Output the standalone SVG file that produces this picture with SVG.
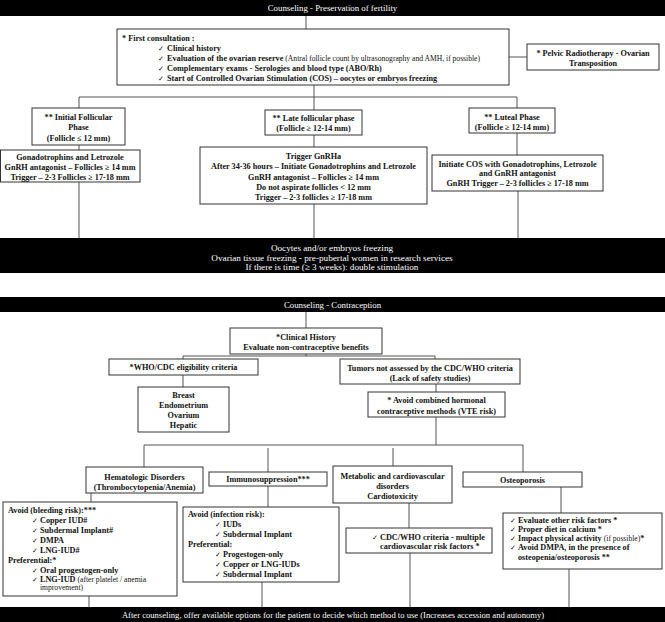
<svg xmlns="http://www.w3.org/2000/svg" width="665" height="622" viewBox="0 0 665 622">
<style>
.bar{fill:#000}
.bt{font-family:"Liberation Serif",serif;fill:#fff;text-anchor:middle;font-size:8.8px}
.box{fill:#fff;stroke:#333;stroke-width:1}
.t{font-family:"Liberation Serif",serif;font-weight:bold;font-size:8.2px;fill:#111}
.c{text-anchor:middle}
.s{font-weight:normal;font-size:7.6px}
.ck{font-family:"DejaVu Sans",sans-serif;font-weight:normal;font-size:7px}
#connectors path{stroke:#555;stroke-width:1;fill:none}
</style>
<rect width="665" height="622" fill="#fff"/>
<g id="connectors">
<path d="M306,16V29"/>
<path d="M509,57H527"/>
<path d="M314,85V97"/>
<path d="M79,108V97H517V108"/>
<path d="M314,97V110"/>
<path d="M79,145V150"/>
<path d="M314,135V147"/>
<path d="M517,133V155"/>
<path d="M79,182V238"/>
<path d="M314,204V238"/>
<path d="M518,191V238"/>
<path d="M306,312V328"/>
<path d="M306,354V356"/>
<path d="M183,359V356H435V359"/>
<path d="M183,375V387"/>
<path d="M436,384V392"/>
<path d="M436,417V445"/>
<path d="M144,467V445H523V472"/>
<path d="M268,448V472"/>
<path d="M393,448V466"/>
<path d="M91,493V502"/>
<path d="M268,486V507"/>
<path d="M409,503V528"/>
<path d="M561,487V513"/>
<path d="M89,596V607"/>
<path d="M262,582V607"/>
<path d="M410,553V607"/>
<path d="M569,569V607"/>
</g>
<g id="bar-fertility">
<rect class="bar" x="0" y="0" width="665" height="16"/>
<text class="bt" x="332.5" y="11">Counseling - Preservation of fertility</text>
</g>
<g id="first-consultation">
<rect class="box" x="117" y="29" width="392" height="56"/>
<text class="t" x="122" y="40.5">* First consultation :</text>
<text class="t" y="50.5"><tspan class="ck" x="158">✓</tspan><tspan x="167">Clinical history</tspan></text>
<text class="t" y="60.5"><tspan class="ck" x="158">✓</tspan><tspan x="167">Evaluation of the ovarian reserve </tspan><tspan class="s">(Antral follicle count by ultrasonography and AMH, if possible)</tspan></text>
<text class="t" y="70.5"><tspan class="ck" x="158">✓</tspan><tspan x="167">Complementary exams - Serologies and blood type (ABO/Rh)</tspan></text>
<text class="t" y="80.5"><tspan class="ck" x="158">✓</tspan><tspan x="167">Start of Controlled Ovarian Stimulation (COS) – oocytes or embryos freezing</tspan></text>
</g>
<g id="pelvic">
<rect class="box" x="527" y="44" width="132" height="26"/>
<text class="t c" x="593" y="55.8">* Pelvic Radiotherapy - Ovarian</text>
<text class="t c" x="593" y="65.8">Transposition</text>
</g>
<g id="initial-follicular">
<rect class="box" x="32" y="108" width="93" height="37"/>
<text class="t c" x="78.5" y="119.5">** Initial Follicular</text>
<text class="t c" x="78.5" y="129.5">Phase</text>
<text class="t c" x="78.5" y="140.5">(Follicle ≤ 12 mm)</text>
</g>
<g id="late-follicular">
<rect class="box" x="265" y="110" width="97" height="25"/>
<text class="t c" x="313.5" y="121">** Late follicular phase</text>
<text class="t c" x="313.5" y="131">(Follicle ≥ 12-14 mm)</text>
</g>
<g id="luteal">
<rect class="box" x="469" y="108" width="86" height="25"/>
<text class="t c" x="512" y="120">** Luteal Phase</text>
<text class="t c" x="512" y="130">(Follicle ≥ 12-14 mm)</text>
</g>
<g id="gonadotrophins">
<rect class="box" x="0.5" y="150" width="139.5" height="32"/>
<text class="t c" x="70" y="159.5">Gonadotrophins and Letrozole</text>
<text class="t c" x="70" y="169.5">GnRH antagonist – Follicles ≥ 14 mm</text>
<text class="t c" x="70" y="179.5">Trigger – 2-3 Follicles ≥ 17-18 mm</text>
</g>
<g id="trigger">
<rect class="box" x="200" y="147" width="227" height="57"/>
<text class="t c" x="313.5" y="158.5">Trigger GnRHa</text>
<text class="t c" x="313.5" y="169">After 34-36 hours – Initiate Gonadotrophins and Letrozole</text>
<text class="t c" x="313.5" y="179.5">GnRH antagonist – Follicles ≥ 14 mm</text>
<text class="t c" x="313.5" y="189.5">Do not aspirate follicles &lt; 12 mm</text>
<text class="t c" x="313.5" y="199.5">Trigger – 2-3 follicles ≥ 17-18 mm</text>
</g>
<g id="cos">
<rect class="box" x="432" y="155" width="171" height="36"/>
<text class="t c" x="517.5" y="166.8">Initiate COS with Gonadotrophins, Letrozole</text>
<text class="t c" x="517.5" y="176.3">and GnRH antagonist</text>
<text class="t c" x="517.5" y="185.8">GnRH Trigger – 2-3 follicles ≥ 17-18 mm</text>
</g>
<g id="bar-freezing">
<rect class="bar" x="0" y="238" width="665" height="35"/>
<text class="bt" x="332" y="250.5" style="font-size:9.2px">Oocytes and/or embryos freezing</text>
<text class="bt" x="332" y="260.5" style="font-size:9.2px">Ovarian tissue freezing - pre-pubertal women in research services</text>
<text class="bt" x="332" y="270" style="font-size:9.2px">If there is time (≥ 3 weeks): double stimulation</text>
</g>
<g id="bar-contraception">
<rect class="bar" x="0" y="297" width="665" height="15"/>
<text class="bt" x="332.5" y="307.8">Counseling - Contraception</text>
</g>
<g id="clinical-history">
<rect class="box" x="230" y="328" width="152" height="26"/>
<text class="t c" x="306" y="340">*Clinical History</text>
<text class="t c" x="306" y="350">Evaluate non-contraceptive benefits</text>
</g>
<g id="who-cdc">
<rect class="box" x="109" y="359" width="149" height="16"/>
<text class="t c" x="183.5" y="370">*WHO/CDC eligibility criteria</text>
</g>
<g id="tumors">
<rect class="box" x="340" y="359" width="180" height="25"/>
<text class="t c" x="430" y="370.8">Tumors not assessed by the CDC/WHO criteria</text>
<text class="t c" x="430" y="381">(Lack of safety studies)</text>
</g>
<g id="breast">
<rect class="box" x="138" y="387" width="91" height="45"/>
<text class="t c" x="183.5" y="398">Breast</text>
<text class="t c" x="183.5" y="408">Endometrium</text>
<text class="t c" x="183.5" y="418">Ovarium</text>
<text class="t c" x="183.5" y="428">Hepatic</text>
</g>
<g id="avoid-combined">
<rect class="box" x="368" y="392" width="137" height="25"/>
<text class="t c" x="436.5" y="403">* Avoid combined hormonal</text>
<text class="t c" x="436.5" y="414">contraceptive methods (VTE risk)</text>
</g>
<g id="hematologic">
<rect class="box" x="86" y="467" width="117" height="26"/>
<text class="t c" x="144.5" y="480">Hematologic Disorders</text>
<text class="t c" x="144.5" y="490">(Thrombocytopenia/Anemia)</text>
</g>
<g id="immunosuppression">
<rect class="box" x="209" y="472" width="118" height="14"/>
<text class="t c" x="268" y="482">Immunosuppression***</text>
</g>
<g id="metabolic">
<rect class="box" x="333" y="466" width="119" height="37"/>
<text class="t c" x="392.5" y="478.5">Metabolic and cardiovascular</text>
<text class="t c" x="392.5" y="488.5">disorders</text>
<text class="t c" x="392.5" y="498.5">Cardiotoxicity</text>
</g>
<g id="osteoporosis">
<rect class="box" x="463" y="472" width="119" height="15"/>
<text class="t c" x="522.5" y="482.8">Osteoporosis</text>
</g>
<g id="bleeding">
<rect class="box" x="3" y="502" width="174" height="94"/>
<text class="t" x="8" y="512.5">Avoid (bleeding risk):***</text>
<text class="t" y="522.5"><tspan class="ck" x="32">✓</tspan><tspan x="40">Copper IUD#</tspan></text>
<text class="t" y="532.5"><tspan class="ck" x="32">✓</tspan><tspan x="40">Subdermal Implant#</tspan></text>
<text class="t" y="542.5"><tspan class="ck" x="32">✓</tspan><tspan x="40">DMPA</tspan></text>
<text class="t" y="552.5"><tspan class="ck" x="32">✓</tspan><tspan x="40">LNG-IUD#</tspan></text>
<text class="t" x="8" y="562.5">Preferential:*</text>
<text class="t" y="572.5"><tspan class="ck" x="32">✓</tspan><tspan x="40">Oral progestogen-only</tspan></text>
<text class="t" y="581.5"><tspan class="ck" x="32">✓</tspan><tspan x="40">LNG-IUD </tspan><tspan class="s">(after platelet / anemia</tspan></text>
<text class="t s" x="40" y="590">improvement)</text>
</g>
<g id="infection">
<rect class="box" x="183" y="507" width="156" height="75"/>
<text class="t" x="188" y="517">Avoid (infection risk):</text>
<text class="t" y="527"><tspan class="ck" x="215">✓</tspan><tspan x="223">IUDs</tspan></text>
<text class="t" y="537"><tspan class="ck" x="215">✓</tspan><tspan x="223">Subdermal Implant</tspan></text>
<text class="t" x="188" y="546.5">Preferential:</text>
<text class="t" y="557"><tspan class="ck" x="215">✓</tspan><tspan x="223">Progestogen-only</tspan></text>
<text class="t" y="567"><tspan class="ck" x="215">✓</tspan><tspan x="223">Copper or LNG-IUDs</tspan></text>
<text class="t" y="577"><tspan class="ck" x="215">✓</tspan><tspan x="223">Subdermal Implant</tspan></text>
</g>
<g id="cdc-who">
<rect class="box" x="346" y="528" width="146" height="25"/>
<text class="t" y="539.5"><tspan class="ck" x="372">✓</tspan><tspan x="380">CDC/WHO criteria - multiple</tspan></text>
<text class="t" x="380" y="549">cardiovascular risk factors *</text>
</g>
<g id="osteo-measures">
<rect class="box" x="503" y="513" width="159" height="56"/>
<text class="t" y="522.8"><tspan class="ck" x="510">✓</tspan><tspan x="518">Evaluate other risk factors *</tspan></text>
<text class="t" y="532.2"><tspan class="ck" x="510">✓</tspan><tspan x="518">Proper diet in calcium *</tspan></text>
<text class="t" y="541.2"><tspan class="ck" x="510">✓</tspan><tspan x="518">Impact physical activity </tspan><tspan class="s">(if possible)</tspan><tspan>*</tspan></text>
<text class="t" y="550.2"><tspan class="ck" x="510">✓</tspan><tspan x="518">Avoid DMPA, in the presence of</tspan></text>
<text class="t" x="518" y="560.2">osteopenia/osteoporosis **</text>
</g>
<g id="bar-bottom">
<rect class="bar" x="0" y="607" width="665" height="15"/>
<text class="bt" x="333" y="617.5" style="font-size:8.6px">After counseling, offer available options for the patient to decide which method to use (Increases accession and autonomy)</text>
</g>
</svg>
